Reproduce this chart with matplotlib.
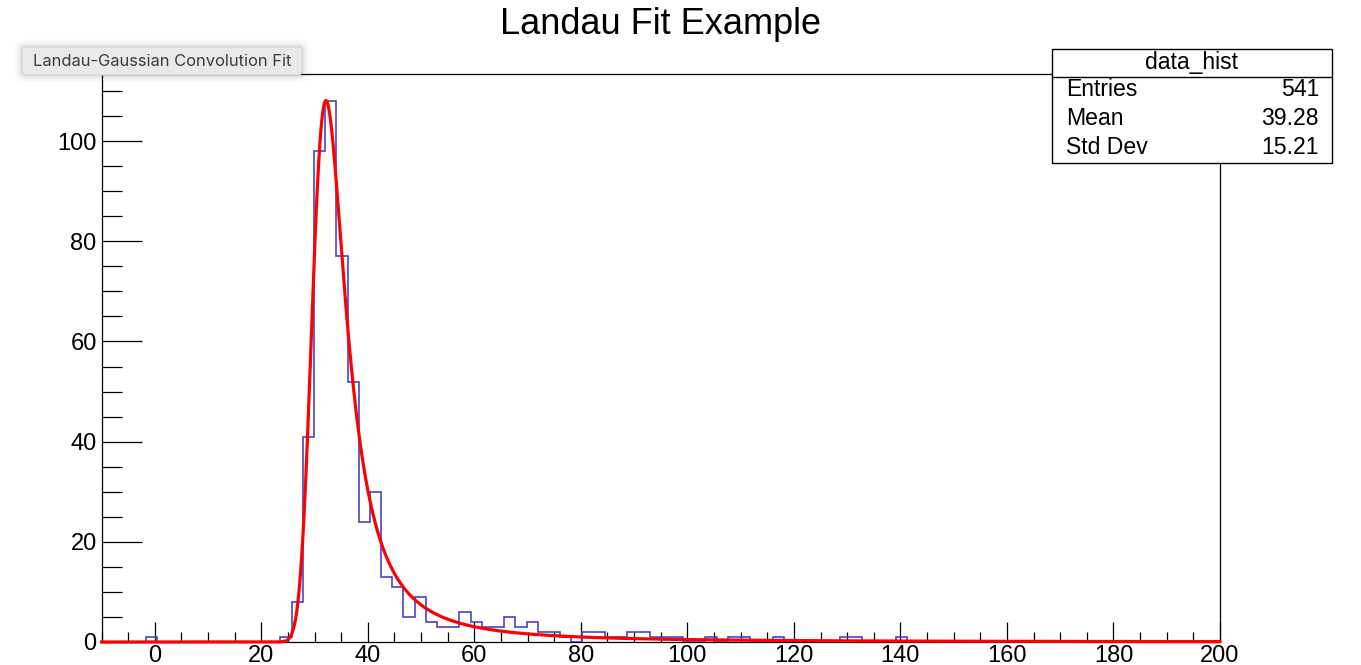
import numpy as np
import matplotlib
matplotlib.use("Agg")
import matplotlib.pyplot as plt
from matplotlib.patches import Rectangle, FancyBboxPatch
from matplotlib.lines import Line2D
from matplotlib.ticker import MultipleLocator
from matplotlib.transforms import IdentityTransform

# ---------------- data ----------------
x_min, x_max, n_bins = -10.0, 200.0, 100
counts = [
    0, 0, 0, 0, 1, 0, 0, 0, 0, 0,
    0, 0, 0, 0, 0, 0, 1, 8, 41, 98,
    108, 77, 52, 24, 30, 13, 11, 5, 9, 4,
    3, 3, 6, 4, 3, 3, 5, 3, 4, 2,
    2, 1, 0, 2, 2, 1, 1, 2, 2, 1,
    1, 1, 0, 0, 1, 0, 1, 1, 0, 0,
    1, 0, 0, 0, 0, 0, 1, 1, 0, 0,
    0, 1, 0, 0, 0, 0, 0, 0, 0, 0,
    0, 0, 0, 0, 0, 0, 0, 0, 0, 0,
    0, 0, 0, 0, 0, 0, 0, 0, 0, 0,
]
x_ticks = [0, 20, 40, 60, 80, 100, 120, 140, 160, 180, 200]
y_ticks = [0, 20, 40, 60, 80, 100]
stats_title = "data_hist"
stats_labels = ["Entries", "Mean", "Std Dev"]
stats_values = ["541", "39.28", "15.21"]
title = "Landau Fit Example"
tooltip = "Landau-Gaussian Convolution Fit"

# Landau (x) Gauss fit parameters
fit_width = 1.7     # Landau scale
fit_mpv = 31.7      # most probable value
fit_area = 1145.0   # area
fit_gsigma = 1.35   # gaussian sigma

# ---------------- fit function ----------------
def landau_density(lam):
    yy = np.linspace(0.0, 30.0, 6001)
    out = np.zeros_like(lam)
    for i, l in enumerate(lam):
        if l < -6:
            continue
        c = np.exp(-1.0 - l)
        s = c + 1j * yy
        vals = np.exp(s * np.log(s) + l * s).real
        out[i] = np.trapezoid(vals, yy) / np.pi
    return out

dx = 0.05
xg = np.arange(-25.0, 215.0, dx)
mpshift = -0.22278298
mpc = fit_mpv - mpshift * fit_width
lan = landau_density((xg - mpc) / fit_width) / fit_width
nk = int(np.ceil(5 * fit_gsigma / dx))
xk = np.arange(-nk, nk + 1) * dx
gk = np.exp(-0.5 * (xk / fit_gsigma) ** 2)
gk /= gk.sum()
conv = np.convolve(lan, gk, mode="same")
fit_y = fit_area * conv
sel = (xg >= x_min) & (xg <= x_max)

# ---------------- figure ----------------
plt.rcParams["font.family"] = ["Liberation Sans", "DejaVu Sans"]
W, H = 1361, 665
fig = plt.figure(figsize=(W / 100, H / 100), dpi=100)
fig.patch.set_facecolor("white")

L, R, T, B = 101.5, 1220.0, 74.0, 642.0
ax = fig.add_axes([L / W, 1 - B / H, (R - L) / W, (B - T) / H])
edges = np.linspace(x_min, x_max, n_bins + 1)
ax.stairs(counts, edges, color="#4545c8", lw=1.2, zorder=3)
ax.plot(xg[sel], fit_y[sel], color="#ff0000", lw=2.3, zorder=4, clip_on=False)

ax.set_xlim(x_min, x_max)
ax.set_ylim(0, 113.4)
ax.set_xticks(x_ticks)
ax.set_yticks(y_ticks)
ax.xaxis.set_minor_locator(MultipleLocator(5))
ax.yaxis.set_minor_locator(MultipleLocator(5))
ax.tick_params(axis="x", which="major", direction="in", length=14.4, width=0.9,
               labelsize=17, pad=2, top=False)
ax.tick_params(axis="x", which="minor", direction="in", length=7.2, width=0.9, top=False)
ax.tick_params(axis="y", which="major", direction="in", length=28.8, width=0.9,
               labelsize=17, pad=3.5, right=False)
ax.tick_params(axis="y", which="minor", direction="in", length=14.4, width=0.9, right=False)
for sp in ax.spines.values():
    sp.set_linewidth(0.9)
    sp.set_color("black")

# title
fig.text(660 / W, 1 - 25 / H, title, ha="center", va="center", fontsize=26)

# stats box
bx0, bx1, by0, by1 = 1052, 1332, 49, 163
fig.add_artist(Rectangle((bx0 / W, 1 - by1 / H), (bx1 - bx0) / W, (by1 - by0) / H,
                         transform=fig.transFigure, facecolor="white",
                         edgecolor="black", lw=1.0, zorder=10))
fig.add_artist(Line2D([bx0 / W, bx1 / W], [1 - 77 / H, 1 - 77 / H],
                      transform=fig.transFigure, color="black", lw=1.0, zorder=11))
fig.text((bx0 + bx1) / 2 / W, 1 - 62 / H, stats_title, ha="center", va="center",
         fontsize=16.6, zorder=12)
for i, (lab, val) in enumerate(zip(stats_labels, stats_values)):
    yc = 1 - (90 + 28.5 * i) / H
    fig.text(1066 / W, yc, lab, ha="left", va="center", fontsize=16.6, zorder=12)
    fig.text(1319 / W, yc, val, ha="right", va="center", fontsize=16.6, zorder=12)

# tooltip with soft shadow
for k, a in [(8, 0.015), (6, 0.02), (4, 0.03), (2, 0.05)]:
    fig.add_artist(FancyBboxPatch((22 - k, H - 75 - k), 280 + 2 * k, 28 + 2 * k,
                                  boxstyle="round,pad=0,rounding_size=%d" % (4 + k),
                                  transform=IdentityTransform(), facecolor="black",
                                  edgecolor="none", alpha=a, zorder=13))
fig.add_artist(FancyBboxPatch((22, H - 75), 280, 28,
                              boxstyle="round,pad=0,rounding_size=4",
                              transform=IdentityTransform(), facecolor="#e9e9e9",
                              edgecolor="#d2d2d2", lw=0.8, zorder=14))
fig.text(162 / W, 1 - 61 / H, tooltip, ha="center", va="center", fontsize=11.9,
         color="#3c3c3c", family=["Inter", "DejaVu Sans"], zorder=15)

fig.savefig("out.png", dpi=100)
